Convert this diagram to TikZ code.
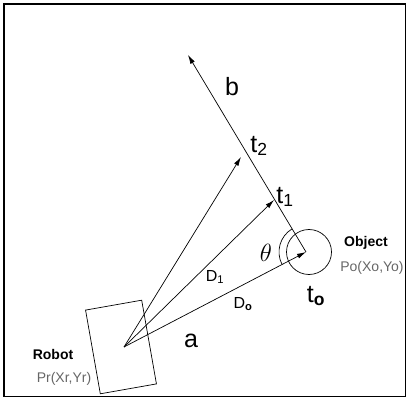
\documentclass[tikz,border=0pt]{standalone}
\usepackage{fontspec}
\setmainfont{Liberation Sans}
\usepackage{tikz}
\usetikzlibrary{arrows.meta,positioning}

\begin{document}
\begin{tikzpicture}[>={Latex[length=9pt,width=5pt]},x=1pt,y=-1pt,line width=0.7pt]
\tikzstyle{bigtxt}=[inner sep=0pt, font=\fontsize{25}{27}\selectfont]
\tikzstyle{midtxt}=[inner sep=0pt, font=\fontsize{16}{18}\selectfont]
\tikzstyle{boldtxt}=[inner sep=0pt, font=\fontsize{14}{16}\selectfont\bfseries]
\tikzstyle{postxt}=[inner sep=0pt, font=\fontsize{14}{16}\selectfont, text=black!60]

\useasboundingbox (0,0) rectangle (407,398);
\draw[line width=1.6pt] (4,4) rectangle (405.5,396.5);

\node[draw, rectangle, rotate=10, minimum width=57pt, minimum height=85pt, inner sep=0pt] (robot) at (121,347) {};
\coordinate (rp) at (124,347);
\coordinate (op) at (306,252);
\node[draw, circle, minimum size=45pt, inner sep=0pt] (obj) at (309,252) {};
\coordinate (tip) at (188,55);
\coordinate (t1) at (274,200);
\coordinate (t2) at (241,157);

\draw[->] (op) -- (tip);
\draw[->] (rp) -- (t2);
\draw[->] (rp) -- (t1);
\draw[->] (rp) -- (op);
\draw (op) ++(152.3:27) arc[start angle=152.3, end angle=239.3, radius=27];

\node[bigtxt] (b) at (232,87) {b};
\node[bigtxt] (lt2) at (259,146) {t\textsubscript{2}};
\node[bigtxt] (lt1) at (285,197) {t\textsubscript{1}};
\node[bigtxt] (lto) at (316,296) {t\textsubscript{\textbf{o}}};
\node[bigtxt] (a) at (191,341) {a};
\node[inner sep=0pt, font=\fontsize{23}{25}\selectfont] (th) at (266,253) {$\theta$};
\node[midtxt] (d1) at (215,277) {D\textsubscript{1}};
\node[midtxt] (do) at (243,304) {D\textsubscript{\textbf{o}}};

\node[boldtxt] (objlbl) at (366,243) {Object};
\node[postxt] (po) at (372,268) {Po(Xo,Yo)};
\node[boldtxt] (rlbl) at (53,354) {Robot};
\node[postxt] (pr) at (64,379) {Pr(Xr,Yr)};
\end{tikzpicture}
\end{document}
